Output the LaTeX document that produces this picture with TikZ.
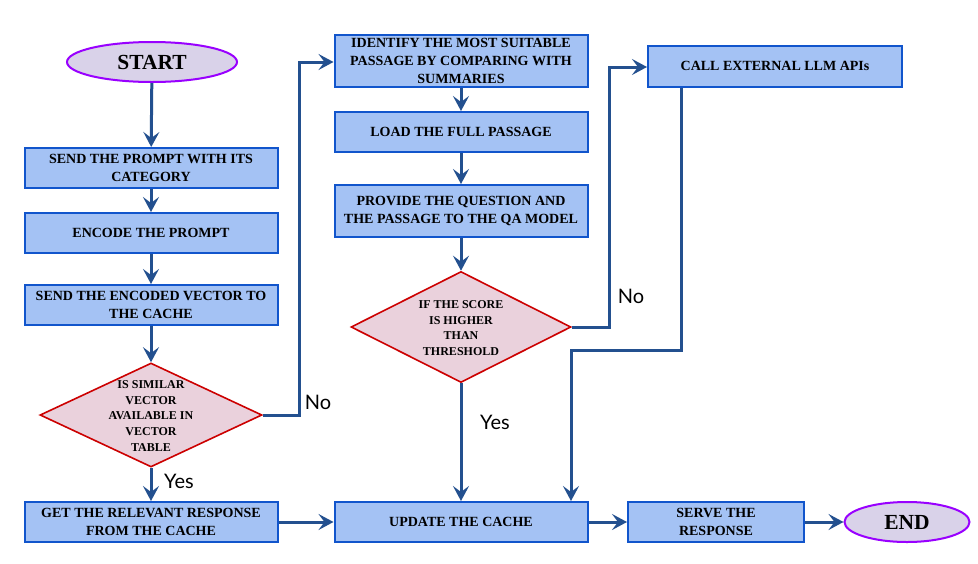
\documentclass[tikz,border=0pt]{standalone}
\usepackage{fontspec}
\setmainfont{Liberation Serif}
\newfontfamily\lblfont{Lato}
\usetikzlibrary{arrows.meta,shapes.geometric}
\definecolor{boxfill}{HTML}{A4C2F4}
\definecolor{boxdraw}{HTML}{1155CC}
\definecolor{arr}{HTML}{23508F}
\definecolor{dfill}{HTML}{EAD1DC}
\definecolor{ddraw}{HTML}{CC0000}
\definecolor{efill}{HTML}{D9D2E9}
\definecolor{edraw}{HTML}{9900FF}
\begin{document}
\begin{tikzpicture}[x=1pt,y=-1pt,
  proc/.style={rectangle, draw=boxdraw, fill=boxfill, line width=2pt, minimum width=253pt, minimum height=40pt, inner sep=0pt, align=center, font=\bfseries\fontsize{14}{18}\selectfont},
  term/.style={ellipse, draw=edraw, fill=efill, line width=2pt, inner sep=0pt, font=\bfseries\fontsize{21.5}{24}\selectfont},
  decis/.style={diamond, draw=ddraw, fill=dfill, line width=1.6pt, inner sep=0pt},
  dtext/.style={align=center, font=\bfseries\fontsize{12}{15.8}\selectfont},
  conn/.style={draw=arr, line width=3pt, -{Stealth[length=15pt,width=16pt,inset=6pt]}},
  lbl/.style={font=\lblfont\fontsize{20}{22}\selectfont, inner sep=0pt}
]
\useasboundingbox (0,0) rectangle (978,563);
\fill[white] (0,0) rectangle (978,563);

\node[term, minimum width=170pt, minimum height=40pt] (start) at (152,62) {START};
\node[proc] (p1) at (151,168) {SEND THE PROMPT WITH ITS\\CATEGORY};
\node[proc] (p2) at (151,233) {ENCODE THE PROMPT};
\node[proc] (p3) at (151,305) {SEND THE ENCODED VECTOR TO\\THE CACHE};
\node[decis, minimum width=222pt, minimum height=104pt] (d1) at (151,415) {};
\node[dtext] (d1t) at (151,416) {IS SIMILAR\\VECTOR\\AVAILABLE IN\\VECTOR\\TABLE};
\node[proc] (p4) at (151,522) {GET THE RELEVANT RESPONSE\\FROM THE CACHE};

\node[proc, minimum height=52pt] (q1) at (461,61) {IDENTIFY THE MOST SUITABLE\\PASSAGE BY COMPARING WITH\\SUMMARIES};
\node[proc] (q2) at (461,132) {LOAD THE FULL PASSAGE};
\node[proc, minimum height=52pt] (q3) at (461,211) {PROVIDE THE QUESTION AND\\THE PASSAGE TO THE QA MODEL};
\node[decis, minimum width=220pt, minimum height=111pt] (d2) at (461,327) {};
\node[dtext] (d2t) at (461,328) {IF THE SCORE\\IS HIGHER\\THAN\\THRESHOLD};
\node[proc] (upd) at (461,522) {UPDATE THE CACHE};

\node[proc, minimum width=254pt, minimum height=41pt] (llm) at (775,66) {CALL EXTERNAL LLM APIs};
\node[proc, minimum width=176pt] (serve) at (716,522) {SERVE THE\\RESPONSE};
\node[term, minimum width=125pt, minimum height=40pt] (end) at (907,522) {END};

\coordinate (c1) at (299,415);
\coordinate (c2) at (299,62);
\coordinate (c3) at (609,327);
\coordinate (c4) at (609,67);
\coordinate (c5) at (681,350);
\coordinate (c6) at (571,350);

\draw[conn] (start) -- (p1);
\draw[conn] (p1) -- (p2);
\draw[conn] (p2) -- (p3);
\draw[conn] (p3) -- (d1);
\draw[conn] (d1) -- (p4);
\draw[conn] (d1.east) -- (c1) -- (c2) -- (q1.west |- c2);
\draw[conn] (p4) -- (upd);
\draw[conn] (q1) -- (q2);
\draw[conn] (q2) -- (q3);
\draw[conn] (q3) -- (d2);
\draw[conn] (d2) -- (upd);
\draw[conn] (d2.east) -- (c3) -- (c4) -- (llm.west |- c4);
\draw[conn] (llm.south -| c5) -- (c5) -- (c6) -- (upd.north -| c6);
\draw[conn] (upd) -- (serve);
\draw[conn] (serve) -- (end);

\node[lbl] (no1) at (318,402) {No};
\node[lbl] (yes1) at (179,481) {Yes};
\node[lbl] (no2) at (631,296) {No};
\node[lbl] (yes2) at (495,422) {Yes};
\end{tikzpicture}
\end{document}
